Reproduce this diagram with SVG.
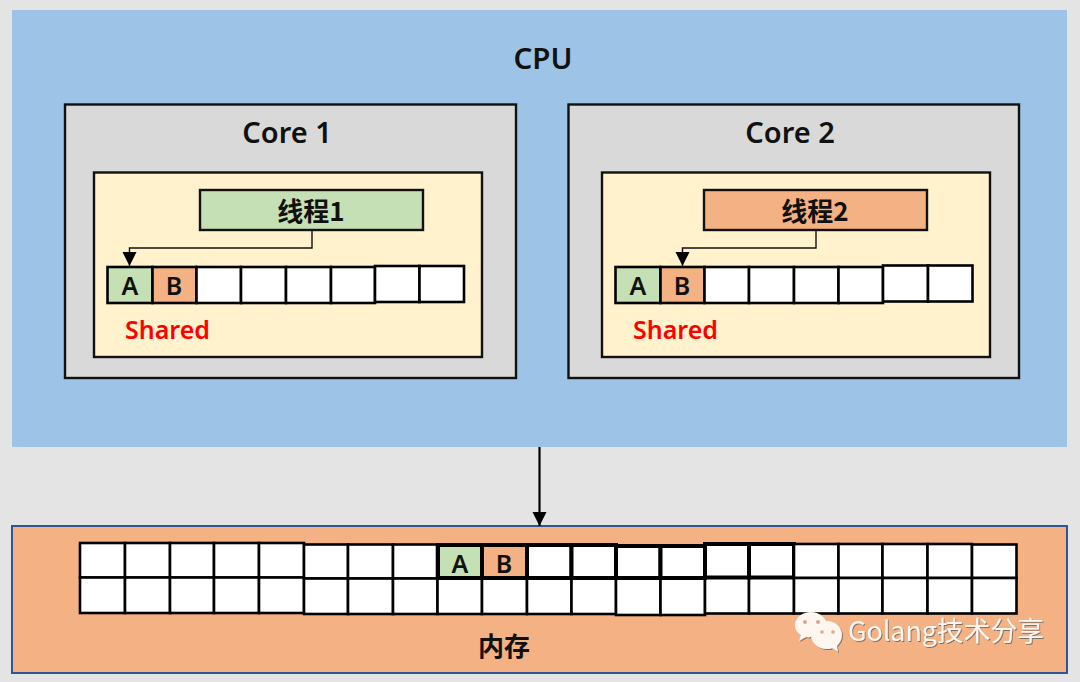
<svg xmlns="http://www.w3.org/2000/svg" width="1080" height="682" viewBox="0 0 1080 682">
<defs>
<marker id="tri" markerUnits="userSpaceOnUse" markerWidth="15" markerHeight="15" refX="14" refY="7" orient="auto"><path d="M0 0L14 7L0 14Z" fill="#000"/></marker>
<filter id="sh" x="-5%" y="-20%" width="110%" height="140%"><feDropShadow dx="1" dy="1" stdDeviation="0.6" flood-color="#555" flood-opacity="0.7"/></filter>
</defs>
<style>
text{font-family:"Noto Sans","Noto Sans CJK SC",sans-serif;font-weight:600;fill:#111;text-anchor:middle}
.cjk{font-family:"Noto Sans CJK SC","Noto Sans",sans-serif;font-weight:700}
.core{fill:#d9d9d9;stroke:#111;stroke-width:2.400}
.inner{fill:#fff2cc;stroke:#111;stroke-width:2.400}
.c{fill:#fff;stroke:#000;stroke-width:2.600}
.t{fill:#fff;stroke:#000;stroke-width:4}
.g{fill:#c5e0b4}
.o{fill:#f4b183}
.conn{fill:none;stroke:#111;stroke-width:1.400}
.shared{fill:#ff0000;font-size:25px;font-weight:600;text-anchor:start}
.lab{font-size:25px;font-weight:600}
</style>
<rect width="1080" height="682" fill="#e4e4e4"/>
<g id="cpu"><rect x="12" y="10" width="1055" height="437" fill="#9dc3e6"/><text x="543" y="69" font-size="29.500">CPU</text></g>
<g id="core1"><rect class="core" x="65" y="104.500" width="451" height="273.500"/><text x="287" y="143" font-size="29">Core 1</text>
<rect class="inner" x="94" y="172.500" width="388" height="184.500"/></g>
<g id="core2"><rect class="core" x="568.500" y="104.500" width="450.500" height="273.500"/><text x="790" y="143" font-size="29">Core 2</text>
<rect class="inner" x="602" y="172.500" width="388" height="184.500"/></g>
<g id="thread1"><rect x="200" y="190" width="223" height="40" fill="#c5e0b4" stroke="#111" stroke-width="2.400"/><text class="cjk" x="311" y="221" font-size="26">线程1</text></g>
<g id="thread2"><rect x="704" y="190" width="223" height="40" fill="#f4b183" stroke="#111" stroke-width="2.400"/><text class="cjk" x="815" y="221" font-size="26">线程2</text></g>
<g id="cache1">
<rect class="c g" x="107.500" y="267" width="45" height="36"/><rect class="c o" x="152.500" y="267" width="44" height="36"/>
<rect class="c" x="196.500" y="267" width="44.500" height="36"/><rect class="c" x="241" y="267" width="45" height="36"/><rect class="c" x="286" y="267" width="45" height="36"/><rect class="c" x="331" y="267" width="44" height="36"/><rect class="c" x="375" y="266" width="44.500" height="36"/><rect class="c" x="419.500" y="266" width="44.500" height="36"/>
<text class="lab" x="130" y="295">A</text><text class="lab" x="174" y="295">B</text><text class="shared" x="125" y="339">Shared</text></g>
<g id="cache2">
<rect class="c g" x="615.500" y="267" width="45" height="36"/><rect class="c o" x="660.500" y="267" width="44" height="36"/>
<rect class="c" x="704.500" y="267" width="44.500" height="36"/><rect class="c" x="749" y="267" width="45" height="36"/><rect class="c" x="794" y="267" width="44.500" height="36"/><rect class="c" x="838.500" y="267" width="44.500" height="36"/><rect class="c" x="883" y="265.500" width="45" height="36"/><rect class="c" x="928" y="265.500" width="44.500" height="36"/>
<text class="lab" x="638" y="295">A</text><text class="lab" x="682" y="295">B</text><text class="shared" x="633" y="339">Shared</text></g>
<g id="memory"><rect x="12" y="526" width="1055" height="147" fill="#f4b183" stroke="#2f5597" stroke-width="2"/><text class="cjk" x="504" y="656" font-size="26">内存</text></g>
<g id="memory-cells">
<g id="m-a"><rect class="c" x="80" y="543" width="45" height="34.500"/><rect class="c" x="125" y="543" width="45" height="34.500"/><rect class="c" x="170" y="543" width="44" height="34.500"/><rect class="c" x="214" y="543" width="45" height="34.500"/><rect class="c" x="259" y="543" width="45" height="34.500"/>
<rect class="c" x="80" y="577.500" width="45" height="35.500"/><rect class="c" x="125" y="577.500" width="45" height="35.500"/><rect class="c" x="170" y="577.500" width="44" height="35.500"/><rect class="c" x="214" y="577.500" width="45" height="35.500"/><rect class="c" x="259" y="577.500" width="45" height="35.500"/></g>
<g id="m-b"><rect class="c" x="304" y="544.500" width="44" height="34"/><rect class="c" x="348" y="544.500" width="45" height="34"/><rect class="c" x="393" y="544.500" width="44" height="34"/>
<rect class="c" x="304" y="578.500" width="44" height="35.500"/><rect class="c" x="348" y="578.500" width="45" height="35.500"/><rect class="c" x="393" y="578.500" width="44.500" height="35.500"/></g>
<g id="m-c"><rect class="c" x="437.500" y="578.500" width="44.500" height="35.500"/><rect class="c" x="482" y="578.500" width="45" height="35.500"/><rect class="c" x="527" y="578.500" width="44.500" height="35.500"/><rect class="c" x="571.500" y="578.500" width="44.500" height="35.500"/><rect class="c" x="616" y="578.500" width="44.500" height="36.500"/><rect class="c" x="660.500" y="578.500" width="44.500" height="36.500"/><rect class="c" x="705" y="577.500" width="44" height="36"/><rect class="c" x="749" y="577.500" width="45" height="36"/>
<rect class="t g" x="438" y="545" width="44" height="33"/><rect class="t o" x="482" y="545" width="45" height="33"/><rect class="t" x="527" y="545" width="44.500" height="33"/><rect class="t" x="571.500" y="545" width="44.500" height="33"/><rect class="t" x="616" y="546" width="44.500" height="32"/><rect class="t" x="660.500" y="546" width="44.500" height="32"/><rect class="t" x="705" y="544" width="44" height="33.500"/><rect class="t" x="749" y="544" width="45" height="33.500"/>
<text class="lab" x="460" y="573">A</text><text class="lab" x="504" y="573">B</text></g>
<g id="m-d"><rect class="c" x="794" y="544" width="44.500" height="34"/><rect class="c" x="838.500" y="544" width="44" height="34"/><rect class="c" x="882.500" y="544" width="45" height="34"/><rect class="c" x="927.500" y="544" width="44.500" height="34"/><rect class="c" x="972" y="544.500" width="44.500" height="33.500"/>
<rect class="c" x="794" y="578" width="44.500" height="35.500"/><rect class="c" x="838.500" y="578" width="44" height="35.500"/><rect class="c" x="882.500" y="578" width="45" height="35.500"/><rect class="c" x="927.500" y="578" width="44.500" height="35.500"/><rect class="c" x="972" y="578" width="44.500" height="35.500"/></g>
</g>
<g id="connectors">
<path class="conn" d="M312 230V248H129.500V266" marker-end="url(#tri)"/>
<path class="conn" d="M816 230V248H682.500V266" marker-end="url(#tri)"/>
<path d="M539.500 447V526" fill="none" stroke="#000" stroke-width="2.200" marker-end="url(#tri)"/>
</g>
<g id="watermark">
<g filter="url(#sh)" fill="#fdf6f1">
<path d="M811 612c-9 0-16 6-16 13 0 4 2 8 6 10l-2 6 7-4 3 .5 20-10c-2-9-9-15.500-18-15.500z"/>
<path d="M827 621c-9 0-16 6-16 14s7 14 16 14c2 0 4 0 5-1l6 4-1-6c3-3 5-7 5-11 0-8-7-14-15-14z"/>
</g>
<g fill="#d8a98a"><circle cx="805" cy="622" r="2"/><circle cx="818" cy="622" r="2"/><circle cx="822" cy="632" r="1.800"/><circle cx="833" cy="632" r="1.800"/></g>
<text x="848" y="641" font-size="26.800" filter="url(#sh)" style="fill:#fdf6f1;text-anchor:start;font-weight:400;font-family:'Noto Sans CJK SC','Noto Sans',sans-serif">Golang技术分享</text>
</g>
</svg>
